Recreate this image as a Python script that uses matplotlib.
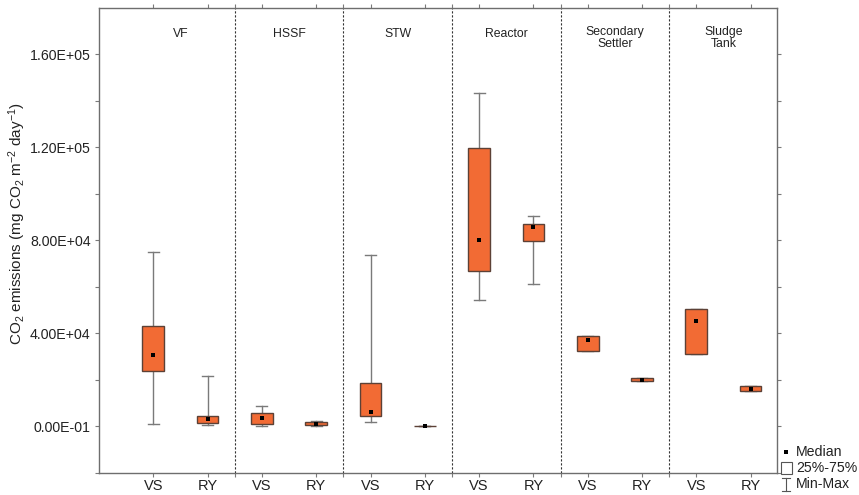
import matplotlib
matplotlib.use("Agg")
import matplotlib.pyplot as plt
from matplotlib.lines import Line2D
from matplotlib.patches import Rectangle

plt.rcParams['font.family'] = ['Liberation Sans', 'DejaVu Sans']
plt.rcParams['mathtext.default'] = 'regular'

groups = ["VF", "HSSF", "STW", "Reactor", "Secondary\nSettler", "Sludge\nTank"]
treatments = ["VS", "RY"]

# order: VF-VS, VF-RY, HSSF-VS, HSSF-RY, STW-VS, STW-RY, Reactor-VS, Reactor-RY,
#        Sec-VS, Sec-RY, Sludge-VS, Sludge-RY
mins    = [1000,  730,  150,  150, 2000,   0, 54500, 61000, 32400, 19650, 31100, 15350]
q1s     = [23950, 1420, 1000, 430, 4600,   0, 67000, 79700, 32400, 19650, 31100, 15350]
medians = [30800, 3300, 3740, 860, 6300, 100, 80100, 85700, 36900, 19900, 45200, 16200]
q3s     = [43100, 4430, 5720, 2000, 18400, 200, 119600, 87200, 38850, 20650, 50450, 17500]
maxs    = [75100, 21800, 8730, 2300, 73700, 300, 143600, 90400, 38850, 20650, 50450, 17500]

yticks = [0, 40000, 80000, 120000, 160000]
ytick_labels = ["0.00E-01", "4.00E+04", "8.00E+04", "1.20E+05", "1.60E+05"]

fig = plt.figure(figsize=(8.59, 4.95), dpi=100)
ax = fig.add_axes([99/859, 1-472.7/495, (776.7-99)/859, (472.7-8)/495])

n = len(medians)
positions = list(range(n))
stats = []
for i in range(n):
    stats.append(dict(med=medians[i], q1=q1s[i], q3=q3s[i],
                      whislo=mins[i], whishi=maxs[i], mean=medians[i], fliers=[]))

orange = '#F26B34'
edge = '#5c4136'
grey = '#7a7a7a'
bp = ax.bxp(stats, positions=positions, widths=0.4, patch_artist=True,
            showmeans=True, showfliers=False, capwidths=0.2,
            boxprops=dict(facecolor=orange, edgecolor=edge, linewidth=1.0),
            whiskerprops=dict(color=grey, linewidth=1.0),
            capprops=dict(color=grey, linewidth=1.0),
            medianprops=dict(visible=False),
            meanprops=dict(marker='s', markerfacecolor='black', markeredgecolor='black',
                           markeredgewidth=0, markersize=2.6))
for b in bp['boxes']:
    b.set_zorder(3)
for w in bp['whiskers'] + bp['caps']:
    w.set_zorder(2)
for m in bp['means']:
    m.set_zorder(4)

ax.set_xlim(-1.0, 11.48)
ax.set_ylim(-20000, 180000)

# group dividers
dividers = [1.5, 3.5, 5.5, 7.5, 9.5]
for d in dividers:
    ax.axvline(d, color='#333333', linestyle=(0, (2, 1.6)), linewidth=0.8, zorder=1)

# group labels
for gi, g in enumerate(groups):
    cx = (2*gi + 2*gi + 1) / 2
    yy = 0.945 if "\n" not in g else 0.935
    ax.text(cx, yy, g, transform=ax.get_xaxis_transform(), ha='center', va='center',
            fontsize=8.8, color='#222222', linespacing=1.05)

ax.set_xticks(positions)
ax.set_xticklabels([treatments[i % 2] for i in positions], fontsize=10.5, color='#222222')
ax.set_xticks(dividers, minor=True)
ax.set_yticks(yticks)
ax.set_yticklabels(ytick_labels, fontsize=10.2, color='#222222')
ax.set_yticks([20000*k for k in range(-1, 9)], minor=True)

ax.tick_params(axis='both', which='both', direction='out', length=3, color=grey,
               top=True, right=True, width=0.8)
ax.tick_params(axis='x', pad=1.5)
ax.tick_params(axis='y', pad=3)
for s in ax.spines.values():
    s.set_color('#6e6e6e')
    s.set_linewidth(1.0)

ax.set_ylabel(r'CO$_2$ emissions (mg CO$_2$ m$^{-2}$ day$^{-1}$)', fontsize=11,
              color='#222222', va='center')
ax.yaxis.set_label_coords((17.5-99)/677.7, (472.7-224)/464.7)

# legend (manual, outside the axes)
fs = 10.2
fig.text(796/859, 1-452/495, "Median", fontsize=fs, va='center', ha='left', color='#222222')
fig.text(796/859, 1-468/495, "25%-75%", fontsize=fs, va='center', ha='left', color='#222222')
fig.text(796/859, 1-484/495, "Min-Max", fontsize=fs, va='center', ha='left', color='#222222')
fig.add_artist(Line2D([786/859], [1-452/495], marker='s', markersize=2.4, markeredgewidth=0,
                      color='black', transform=fig.transFigure))
fig.add_artist(Rectangle((781/859, 1-474/495), 11/859, 12/495, facecolor='white',
                         edgecolor='#555555', linewidth=0.8, transform=fig.transFigure))
fig.add_artist(Line2D([786/859, 786/859], [1-477.5/495, 1-490.5/495], color='#555555',
                      linewidth=0.8, transform=fig.transFigure))
fig.add_artist(Line2D([782/859, 790/859], [1-477.5/495, 1-477.5/495], color='#555555',
                      linewidth=0.8, transform=fig.transFigure))
fig.add_artist(Line2D([782/859, 790/859], [1-490.5/495, 1-490.5/495], color='#555555',
                      linewidth=0.8, transform=fig.transFigure))

fig.savefig("out.png", dpi=100)
